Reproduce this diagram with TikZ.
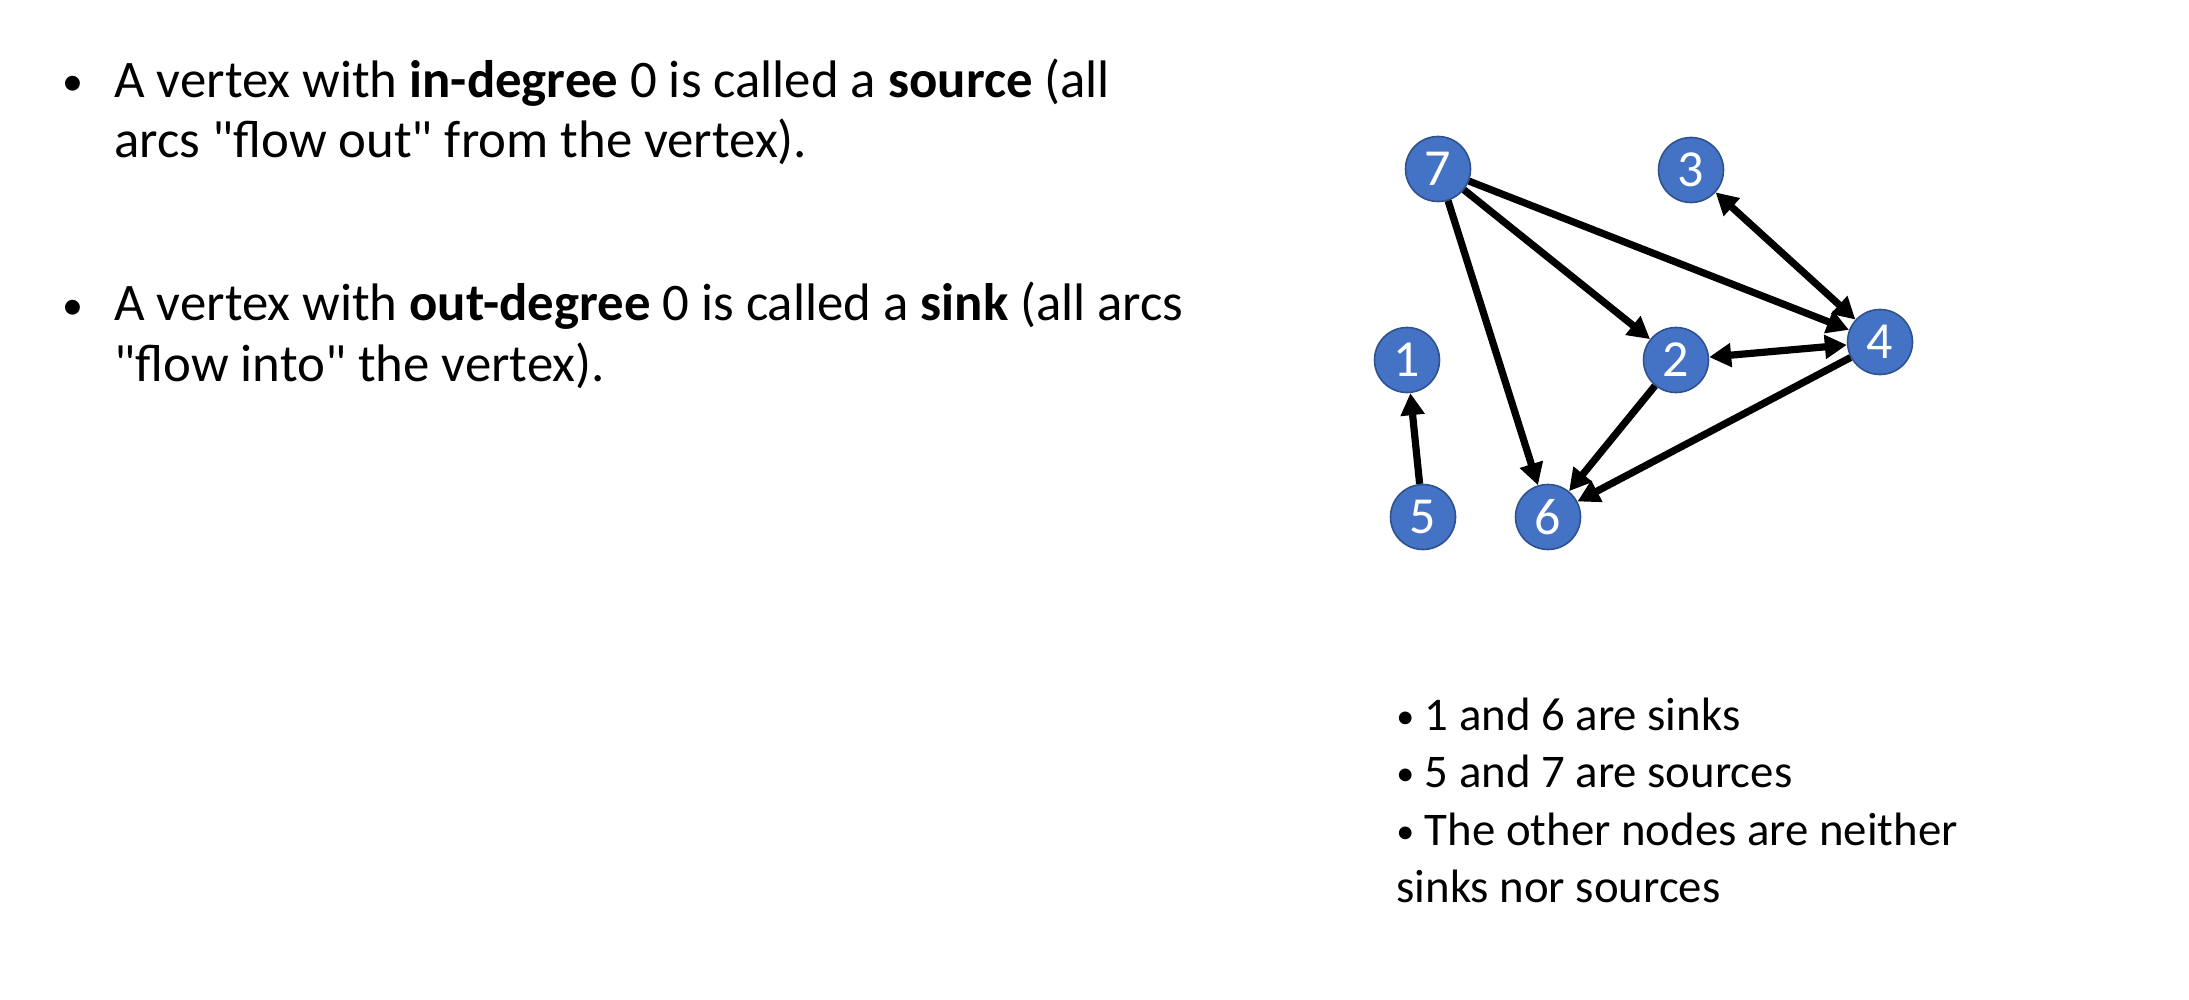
\documentclass[tikz,border=0pt]{standalone}
\usepackage{fontspec}
\setmainfont{Carlito}[Ligatures=TeXOff]
\usetikzlibrary{arrows.meta}
\definecolor{vblue}{RGB}{68,114,196}
\definecolor{vborder}{RGB}{47,82,143}
\newcommand{\smallbullet}{{\fontsize{18}{18}\selectfont\raisebox{0.6pt}{•}}}
\begin{document}
\begin{tikzpicture}[x=0.5pt,y=-0.5pt,
  vertex/.style={circle, fill=vblue, draw=vborder, line width=0.8pt,
    minimum size=32.5pt, inner sep=0pt, text=white,
    font=\fontsize{26}{26}\selectfont},
  arc/.style={line width=3.6pt, -{Triangle[length=11pt,width=11.5pt]}},
  biarc/.style={line width=3.6pt,
    {Triangle[length=11pt,width=11.5pt]}-{Triangle[length=11pt,width=11.5pt]}},
  bodytext/.style={inner sep=0pt, anchor=base west,
    font=\fontsize{26.4}{30}\selectfont},
  bulletmark/.style={inner sep=0pt, anchor=base west,
    font=\fontsize{21}{30}\selectfont},
  notetext/.style={inner sep=0pt, anchor=base west,
    font=\fontsize{23.4}{28}\selectfont}]
\useasboundingbox (0,0) rectangle (2189,1000);

% definitions on the left
\node[bulletmark] (b1) at (62,96) {•};
\node[bodytext] (t1a) at (114,98) {A vertex with \textbf{in-degree} 0 is called a \textbf{source} (all};
\node[bodytext] (t1b) at (114,158) {arcs "flow out" from the vertex).};
\node[bulletmark] (b2) at (62,319) {•};
\node[bodytext] (t2a) at (114,321) {A vertex with \textbf{out-degree} 0 is called a \textbf{sink} (all arcs};
\node[bodytext] (t2b) at (114,381) {"flow into" the vertex).};

% the directed graph
\node[vertex] (n7) at (1438,169) {7};
\node[vertex] (n3) at (1691,170) {3};
\node[vertex] (n1) at (1407,360) {1};
\node[vertex] (n2) at (1676,360) {2};
\node[vertex] (n4) at (1880,342) {4};
\node[vertex] (n5) at (1423,517) {5};
\node[vertex] (n6) at (1548,517) {6};

\draw[arc] (n7) -- (n2);
\draw[arc] (n7) -- (n4);
\draw[arc] (n7) -- (n6);
\draw[biarc] (n3) -- (n4);
\draw[biarc] (n2) -- (n4);
\draw[arc] (n2) -- (n6);
\draw[arc] (n4) -- (n6);
\draw[arc] (n5) -- (n1);

% summary below the graph
\node[notetext] (s1) at (1396,730) {\smallbullet\ 1 and 6 are sinks};
\node[notetext] (s2) at (1396,787) {\smallbullet\ 5 and 7 are sources};
\node[notetext] (s3) at (1396,845) {\smallbullet\ The other nodes are neither};
\node[notetext] (s4) at (1396,902) {sinks nor sources};
\end{tikzpicture}
\end{document}
